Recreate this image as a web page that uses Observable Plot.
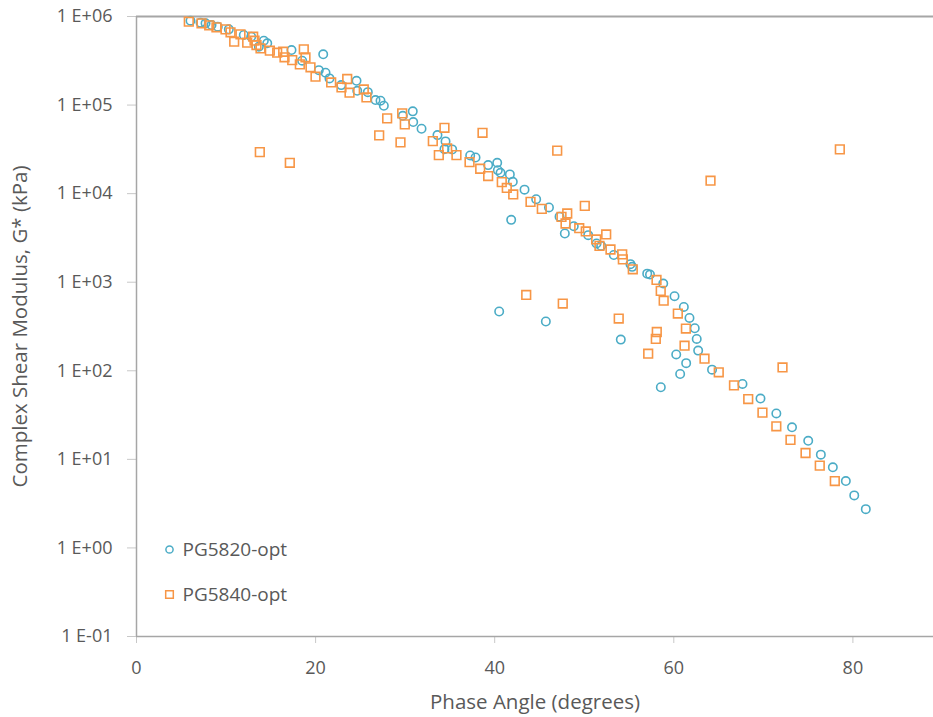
<!DOCTYPE html>
<html>
<head>
<meta charset="utf-8">
<script src="https://cdn.jsdelivr.net/npm/d3@7"></script>
<script src="https://cdn.jsdelivr.net/npm/@observablehq/plot@0.6"></script>
<style>
  html, body { margin: 0; padding: 0; background: #fff; }
  #chart svg { display: block; }
</style>
</head>
<body>
<div id="chart"></div>
<script>
// Series names
const seriesNames = ["PG5820-opt", "PG5840-opt"];

// PG5820-opt: phase angle (degrees) and complex shear modulus G* (kPa)
const pg5820Phase = [6.03,7.15,7.71,8.38,9.08,10.31,11.98,12.81,13.66,14.22,14.60,17.31,18.50,20.85,20.36,21.11,21.55,22.86,24.57,24.65,25.83,26.69,27.25,27.62,29.74,30.85,30.90,31.83,33.61,34.51,34.39,35.25,37.26,37.86,39.27,40.28,40.35,40.65,41.69,42.02,43.33,44.63,46.06,47.24,47.83,41.84,48.83,50.44,51.37,51.89,53.30,55.16,55.35,57.03,57.34,58.82,60.08,61.12,61.75,62.34,62.56,62.72,60.27,61.38,60.71,58.55,40.50,45.71,54.08,64.27,67.67,69.68,71.45,73.20,75.01,76.42,77.76,79.21,80.15,81.44];
const pg5820Modulus = [8.97e5,8.51e5,8.38e5,8.01e5,7.67e5,7.16e5,6.18e5,5.91e5,4.56e5,5.33e5,4.98e5,4.18e5,3.17e5,3.74e5,2.48e5,2.32e5,2.00e5,1.68e5,1.88e5,1.45e5,1.40e5,1.14e5,1.12e5,9.82e4,7.57e4,8.49e4,6.43e4,5.40e4,4.58e4,3.89e4,3.18e4,3.16e4,2.70e4,2.56e4,2.10e4,2.23e4,1.84e4,1.72e4,1.65e4,1.36e4,1.11e4,8.66e3,6.98e3,5.50e3,3.55e3,5.06e3,4.29e3,3.40e3,2.74e3,2.57e3,2.03e3,1.60e3,1.49e3,1.25e3,1.22e3,966,695,526,395,302,229,169,153,122,92,65.2,467,360,225,103,71.0,48.6,33.0,23.0,16.2,11.3,8.13,5.69,3.92,2.74];

// PG5840-opt: phase angle (degrees) and complex shear modulus G* (kPa)
const pg5840Phase = [5.84,7.26,8.12,8.93,9.94,10.50,10.91,11.61,13.03,13.18,12.36,13.40,13.85,14.89,15.71,16.38,16.53,17.39,18.24,18.68,18.87,19.43,19.99,21.74,22.89,23.53,23.79,25.38,25.68,27.10,13.77,17.12,27.99,29.67,29.96,29.48,34.39,33.09,33.76,34.69,35.73,38.64,37.19,38.38,39.27,40.79,41.35,42.07,44.00,45.26,46.98,47.46,48.10,47.91,50.06,49.44,50.17,51.33,52.45,51.70,52.93,54.24,54.31,55.42,58.07,58.54,58.87,64.10,60.45,61.35,43.52,47.60,53.85,58.10,57.99,61.20,57.14,63.43,65.02,66.72,68.31,69.90,71.45,73.03,74.71,76.30,77.98,72.14,78.54];
const pg5840Modulus = [8.73e5,8.38e5,7.96e5,7.55e5,7.16e5,6.63e5,5.19e5,6.29e5,5.91e5,5.33e5,5.06e5,4.76e5,4.37e5,4.11e5,3.90e5,4.00e5,3.46e5,3.22e5,2.88e5,4.26e5,3.46e5,2.67e5,2.09e5,1.80e5,1.58e5,1.97e5,1.38e5,1.50e5,1.22e5,4.55e4,2.94e4,2.23e4,7.08e4,8.06e4,6.05e4,3.79e4,5.54e4,3.92e4,2.72e4,3.24e4,2.72e4,4.86e4,2.27e4,1.91e4,1.58e4,1.35e4,1.16e4,9.79e3,8.07e3,6.73e3,3.06e4,5.47e3,5.97e3,4.60e3,7.28e3,4.07e3,3.74e3,3.04e3,3.46e3,2.57e3,2.34e3,2.06e3,1.81e3,1.40e3,1.06e3,798,618,1.40e4,443,300,718,574,389,274,229,192,156,137,96.2,68.5,48.0,33.7,23.6,16.6,11.8,8.49,5.69,109,3.16e4];

// Axis ticks
const xTicks = [0, 20, 40, 60, 80];
const yTicks = [1e-1, 1e0, 1e1, 1e2, 1e3, 1e4, 1e5, 1e6];

const xTitle = "Phase Angle (degrees)";
const yTitle = "Complex Shear Modulus, G* (kPa)";

const blue = "#4bacc6";
const orange = "#f79646";
const textColor = "#595959";
const axisColor = "#a6a6a6";
const font = "'Open Sans', 'Noto Sans', sans-serif";

const pg5820 = pg5820Phase.map((x, i) => ({x, y: pg5820Modulus[i]}));
const pg5840 = pg5840Phase.map((x, i) => ({x, y: pg5840Modulus[i]}));

// "1 E+06" style scientific labels
const sciFormat = v => {
  const e = Math.round(Math.log10(v));
  const s = e < 0 ? "-" : "+";
  return "1 E" + s + String(Math.abs(e)).padStart(2, "0");
};

const chart = Plot.plot({
  width: 933,
  height: 717,
  marginLeft: 136,
  marginRight: 0,
  marginTop: 16,
  marginBottom: 81,
  style: {fontFamily: font, fontSize: "18px", color: textColor, background: "#fff", overflow: "visible"},
  x: {domain: [0, 89]},
  y: {type: "log", domain: [0.1, 1e6]},
  marks: [
    Plot.axisX({ticks: xTicks, tickSize: 7, tickPadding: 18, stroke: "#c8c8c8", fill: textColor, fontSize: 18, label: null}),
    Plot.axisY({ticks: yTicks, tickFormat: sciFormat, tickSize: 9, tickPadding: 15, stroke: "#c8c8c8", fill: textColor, fontSize: 18, label: null}),
    Plot.ruleX([0], {stroke: axisColor, strokeWidth: 1.5}),
    Plot.ruleY([0.1], {stroke: axisColor, strokeWidth: 1.5}),
    Plot.ruleY([1e6], {stroke: axisColor, strokeWidth: 2}),
    Plot.text([xTitle], {frameAnchor: "bottom", dy: 66, textAnchor: "middle", fill: textColor, fontSize: 20.5, lineAnchor: "middle"}),
    Plot.text([yTitle], {frameAnchor: "left", dx: -116, rotate: -90, textAnchor: "middle", fill: textColor, fontSize: 20.5, lineAnchor: "middle"}),
    Plot.dot(pg5820, {x: "x", y: "y", r: 4.2, symbol: "circle", stroke: blue, strokeWidth: 1.6, fill: "none"}),
    Plot.dot(pg5840, {x: "x", y: "y", r: 4.9, symbol: "square", stroke: orange, strokeWidth: 1.6, fill: "none"}),
    // Legend
    Plot.dot([seriesNames[0]], {frameAnchor: "bottom-left", dx: 33, dy: -87, r: 3.6, symbol: "circle", stroke: blue, strokeWidth: 1.5, fill: "none"}),
    Plot.dot([seriesNames[1]], {frameAnchor: "bottom-left", dx: 33, dy: -42, r: 4.3, symbol: "square", stroke: orange, strokeWidth: 1.5, fill: "none"}),
    Plot.text([seriesNames[0]], {text: d => d, frameAnchor: "bottom-left", dx: 46, dy: -87, textAnchor: "start", lineAnchor: "middle", fill: textColor, fontSize: 19}),
    Plot.text([seriesNames[1]], {text: d => d, frameAnchor: "bottom-left", dx: 46, dy: -42, textAnchor: "start", lineAnchor: "middle", fill: textColor, fontSize: 19})
  ]
});

document.getElementById("chart").append(chart);
</script>
</body>
</html>
